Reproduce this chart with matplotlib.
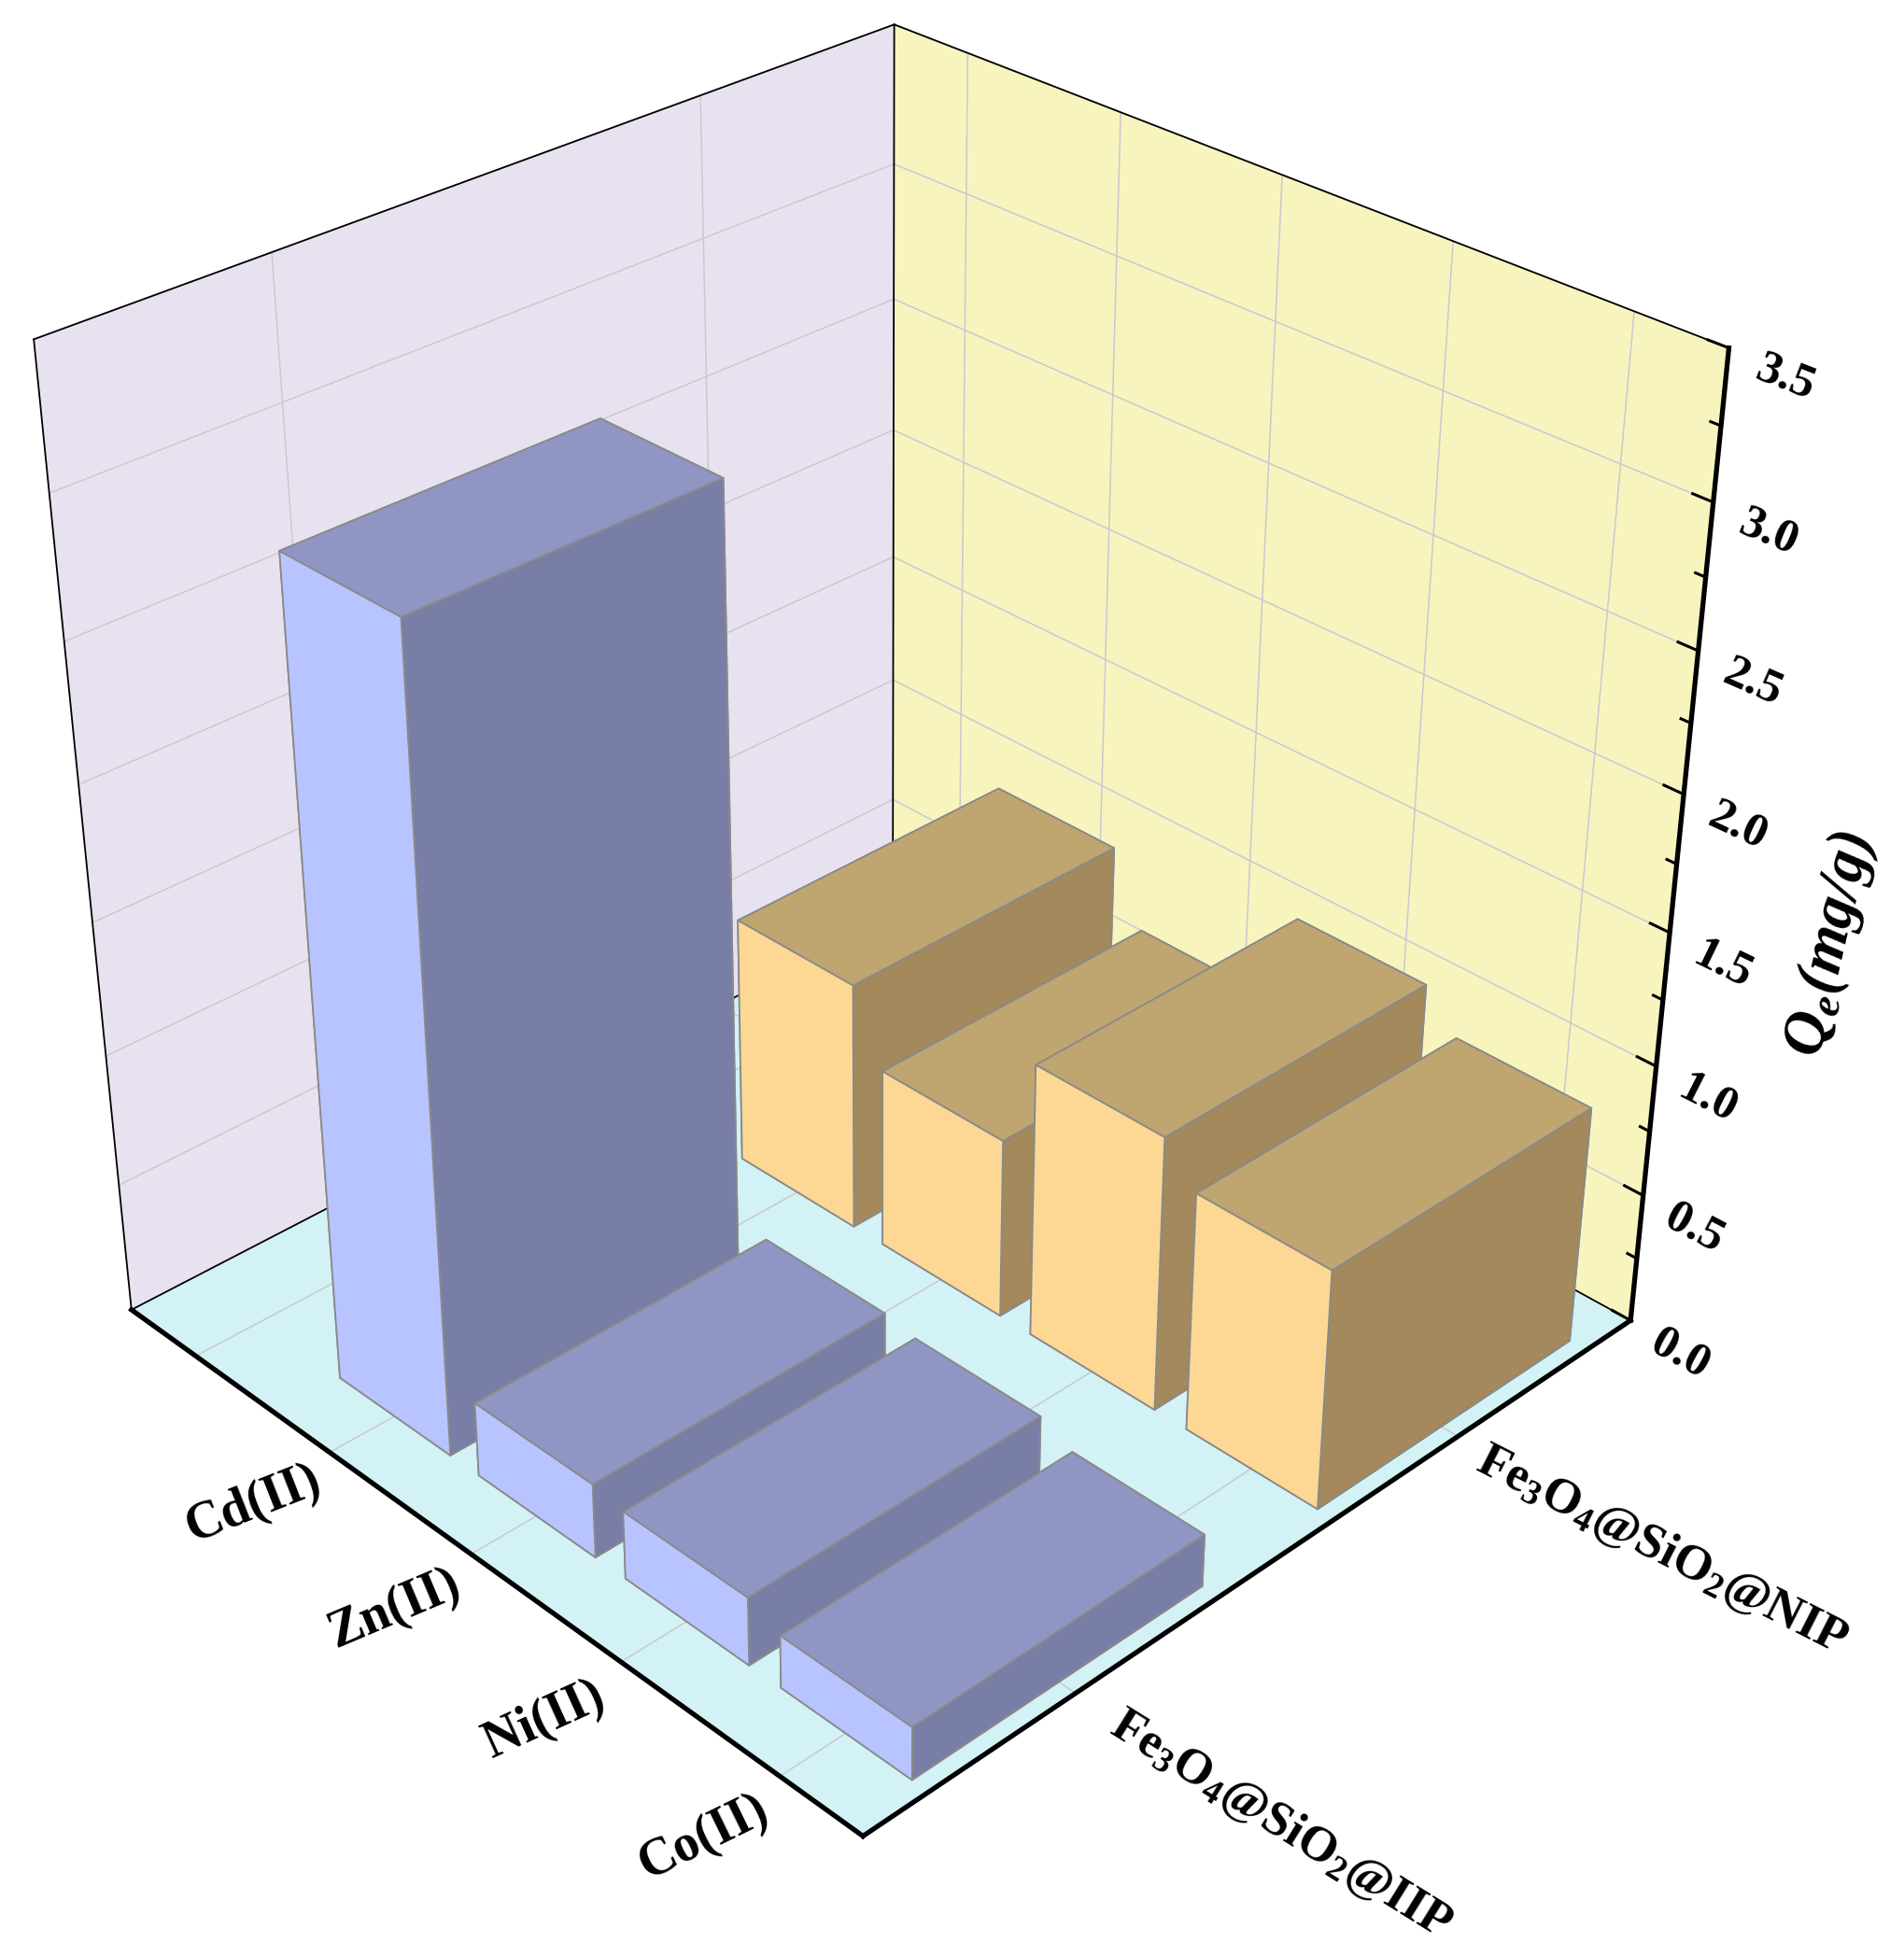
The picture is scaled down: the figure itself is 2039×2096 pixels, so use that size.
import matplotlib
matplotlib.use("Agg")
import matplotlib.pyplot as plt
import numpy as np
from mpl_toolkits.mplot3d import proj3d

plt.rcParams['font.family'] = ['Liberation Serif', 'DejaVu Serif']
plt.rcParams['font.weight'] = 'bold'
plt.rcParams['mathtext.fontset'] = 'custom'
plt.rcParams['mathtext.rm'] = 'Liberation Serif:bold'
plt.rcParams['mathtext.bf'] = 'Liberation Serif:bold'
plt.rcParams['mathtext.it'] = 'Liberation Serif:bold:italic'
plt.rcParams['mathtext.bfit'] = 'Liberation Serif:bold:italic'

metals = ['Co(II)', 'Ni(II)', 'Zn(II)', 'Cd(II)']
materials = [r'$\mathbf{Fe_3O_4@SiO_2@IIP}$', r'$\mathbf{Fe_3O_4@SiO_2@NIP}$']
metal_pos = [0.5, 1.5, 2.5, 3.5]
material_pos = [0.5, 1.5]
iip_vals = [0.20, 0.26, 0.284, 3.0]
nip_vals = [0.915, 1.055, 0.695, 0.965]
z_major = [0.0, 0.5, 1.0, 1.5, 2.0, 2.5, 3.0, 3.5]
z_minor = [0.25, 0.75, 1.25, 1.75, 2.25, 2.75, 3.25]
y_grid = [0.5, 1.5, 2.5, 3.5, 4.5]

bar_x = [0.505, 1.515]
bar_dx = 0.708
bar_dy = 0.80
grid_col = '#c9c9d2'
# order of bar3d faces: -Z, +Z, -Y, +Y, -X, +X
blue = ['#8f96c4', '#8f96c4', '#797ea6', '#797ea6', '#b8c4ff', '#b8c4ff']
orange = ['#bfa570', '#bfa570', '#a3895b', '#a3895b', '#fdd894', '#fdd894']

fig = plt.figure(figsize=(20.4, 20.96), dpi=100)
ax = fig.add_axes([-101.5/2040, 132.1/2096, 2032.5/2040, 2032.5/2096], projection='3d')
ax.view_init(31.562, -134.103)
ax.set_proj_type('persp', focal_length=0.4722)
ax.set_box_aspect((1, 0.9923, 1.0057))
ax.computed_zorder = False
ax.set_xlim(0, 2, view_margin=0)
ax.set_ylim(0, 5, view_margin=0)
ax.set_zlim(0, 3.5, view_margin=0)

ax.xaxis.set_pane_color('#f8f4be')
ax.yaxis.set_pane_color('#e8e2f0')
ax.zaxis.set_pane_color('#d3f2f5')

# no built-in ticks, grid and axis marks are drawn below
ax.set_xticks([])
ax.set_yticks([])
ax.set_zticks([])
ax.grid(False)
for axis in (ax.xaxis, ax.yaxis, ax.zaxis):
    axis.pane.set_edgecolor('none')
    axis.line.set_color((0, 0, 0, 0))


def label(x, y, z, s, d, size):
    # 2D text placed at a 3D point, turned along the projected direction d
    M = ax.get_proj()
    x0, y0, _ = proj3d.proj_transform(x, y, z, M)
    x1, y1, _ = proj3d.proj_transform(x + d[0], y + d[1], z + d[2], M)
    angle = np.degrees(np.arctan2(y1 - y0, x1 - x0))
    ax.text2D(x0, y0, s, transform=ax.transData, fontsize=size, rotation=angle,
              ha='center', va='center', clip_on=False)


## Grid on floor and walls
for x in material_pos:
    ax.plot([x, x], [0, 5], [0, 0], color=grid_col, lw=1.1, zorder=1, clip_on=False)
    ax.plot([x, x], [5, 5], [0, 3.5], color=grid_col, lw=1.1, zorder=1, clip_on=False)
for y in y_grid:
    ax.plot([0, 2], [y, y], [0, 0], color=grid_col, lw=1.1, zorder=1, clip_on=False)
    ax.plot([2, 2], [y, y], [0, 3.5], color=grid_col, lw=1.1, zorder=1, clip_on=False)
for z in z_major[1:]:
    ax.plot([0, 2], [5, 5], [z, z], color=grid_col, lw=1.1, zorder=1, clip_on=False)
    ax.plot([2, 2], [5, 0], [z, z], color=grid_col, lw=1.1, zorder=1, clip_on=False)

# back to front, so painter order comes out right
order = 5
for vals, xpos, cols in ((nip_vals, bar_x[1], orange), (iip_vals, bar_x[0], blue)):
    for i in range(3, -1, -1):
        c = ax.bar3d(xpos - bar_dx/2, metal_pos[i] - bar_dy/2, 0, bar_dx, bar_dy, vals[i],
                     color=cols, shade=False, edgecolor='#8a8a8a', linewidth=1.3, zorder=order)
        c.set_clip_on(False)
        order += 1

# thin outline of the walls
thin = [([0, 0], [5, 5], [0, 3.5]), ([0, 2], [5, 5], [3.5, 3.5]), ([2, 2], [5, 0], [3.5, 3.5]),
        ([2, 2], [5, 5], [0, 3.5]), ([0, 2], [5, 5], [0, 0]), ([2, 2], [5, 0], [0, 0])]
for xs, ys, zs in thin:
    ax.plot(xs, ys, zs, color='black', lw=1.3, zorder=2, clip_on=False)

# bold axes
bold = [([0, 0], [0, 5], [0, 0]), ([0, 2], [0, 0], [0, 0]), ([2, 2], [0, 0], [0, 3.5])]
for xs, ys, zs in bold:
    ax.plot(xs, ys, zs, color='black', lw=3.8, zorder=20, clip_on=False, solid_capstyle='projecting')

for z in z_major:
    ax.plot([2, 2], [0, 0.11], [z, z], color='black', lw=2.2, zorder=20, clip_on=False)
    label(2, -0.3, z - 0.025, '%.1f' % z, (0, -1, 0), 37)
for z in z_minor:
    ax.plot([2, 2], [0, 0.055], [z, z], color='black', lw=2.2, zorder=20, clip_on=False)

for name, y in zip(metals, metal_pos):
    label(-0.19, y - 0.05, 0, name, (1, 0, -0.28), 40)
for name, x, tilt in zip(materials, material_pos, (0.03, 0.05)):
    label(x + 0.01, -1.15, 0, name, (0, -1, tilt), 38.5)

ax.text2D(1960/2040, 1 - 1012/2096, r'$\mathbfit{Q_e(mg/g)}$', transform=fig.transFigure,
          fontsize=47, rotation=77, ha='center', va='center')

ax.set_xlim(0, 2, view_margin=0)
ax.set_ylim(0, 5, view_margin=0)
ax.set_zlim(0, 3.5, view_margin=0)

fig.savefig('out.png', dpi=100)
